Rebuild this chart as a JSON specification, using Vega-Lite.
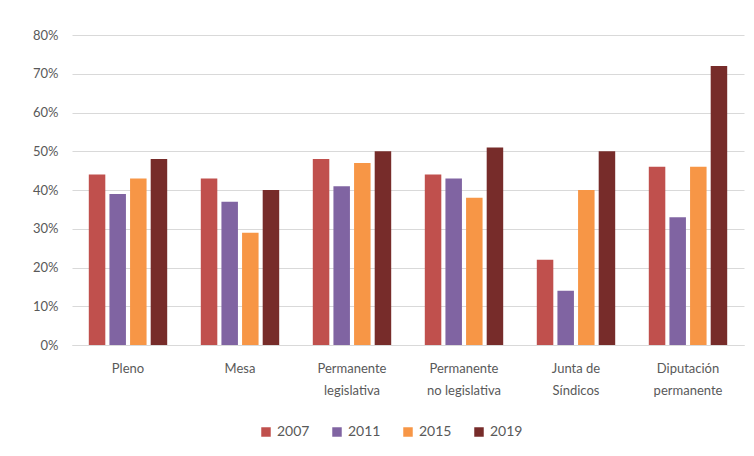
{
  "$schema": "https://vega.github.io/schema/vega-lite/v6.json",
  "width": 672,
  "height": 310,
  "autosize": {"type": "none"},
  "padding": {"left": 72, "top": 35, "right": 10, "bottom": 111},
  "background": "white",
  "data": {
    "values": [
      {"organo": "Pleno", "year": "2007", "pct": 0.44},
      {"organo": "Pleno", "year": "2011", "pct": 0.39},
      {"organo": "Pleno", "year": "2015", "pct": 0.43},
      {"organo": "Pleno", "year": "2019", "pct": 0.48},
      {"organo": "Mesa", "year": "2007", "pct": 0.43},
      {"organo": "Mesa", "year": "2011", "pct": 0.37},
      {"organo": "Mesa", "year": "2015", "pct": 0.29},
      {"organo": "Mesa", "year": "2019", "pct": 0.40},
      {"organo": "Permanente legislativa", "year": "2007", "pct": 0.48},
      {"organo": "Permanente legislativa", "year": "2011", "pct": 0.41},
      {"organo": "Permanente legislativa", "year": "2015", "pct": 0.47},
      {"organo": "Permanente legislativa", "year": "2019", "pct": 0.50},
      {"organo": "Permanente no legislativa", "year": "2007", "pct": 0.44},
      {"organo": "Permanente no legislativa", "year": "2011", "pct": 0.43},
      {"organo": "Permanente no legislativa", "year": "2015", "pct": 0.38},
      {"organo": "Permanente no legislativa", "year": "2019", "pct": 0.51},
      {"organo": "Junta de Síndicos", "year": "2007", "pct": 0.22},
      {"organo": "Junta de Síndicos", "year": "2011", "pct": 0.14},
      {"organo": "Junta de Síndicos", "year": "2015", "pct": 0.40},
      {"organo": "Junta de Síndicos", "year": "2019", "pct": 0.50},
      {"organo": "Diputación permanente", "year": "2007", "pct": 0.46},
      {"organo": "Diputación permanente", "year": "2011", "pct": 0.33},
      {"organo": "Diputación permanente", "year": "2015", "pct": 0.46},
      {"organo": "Diputación permanente", "year": "2019", "pct": 0.72}
    ]
  },
  "mark": {"type": "bar"},
  "encoding": {
    "x": {
      "field": "organo",
      "type": "nominal",
      "sort": null,
      "scale": {"paddingInner": 0.3, "paddingOuter": 0.15},
      "axis": {
        "title": null,
        "labelAngle": 0,
        "ticks": false,
        "domain": true,
        "domainColor": "#D9D9D9",
        "labelPadding": 17,
        "labelFont": "Lato",
        "labelFontSize": 13,
        "labelColor": "#595959",
        "labelLineHeight": 22,
        "labelExpr": "indexof(datum.value,'Permanente ')==0 ? ['Permanente', substring(datum.value, 11)] : datum.value=='Junta de Síndicos' ? ['Junta de','Síndicos'] : datum.value=='Diputación permanente' ? ['Diputación','permanente'] : datum.value"
      }
    },
    "xOffset": {
      "field": "year",
      "type": "nominal",
      "scale": {"paddingInner": 0.2}
    },
    "y": {
      "field": "pct",
      "type": "quantitative",
      "scale": {"domain": [0, 0.8], "nice": false},
      "axis": {
        "title": null,
        "format": ".0%",
        "values": [0, 0.1, 0.2, 0.3, 0.4, 0.5, 0.6, 0.7, 0.8],
        "labelOverlap": false,
        "domain": false,
        "ticks": false,
        "grid": true,
        "gridColor": "#D9D9D9",
        "labelPadding": 14,
        "labelFont": "Lato",
        "labelFontSize": 13,
        "labelColor": "#595959"
      }
    },
    "color": {
      "field": "year",
      "type": "nominal",
      "scale": {
        "domain": ["2007", "2011", "2015", "2019"],
        "range": ["#C0504D", "#8064A2", "#F79646", "#772C2A"]
      },
      "legend": {
        "title": null,
        "orient": "none",
        "legendX": 187,
        "legendY": 390,
        "direction": "horizontal",
        "symbolType": "square",
        "symbolSize": 90,
        "symbolStrokeWidth": 0,
        "labelFont": "Lato",
        "labelFontSize": 14,
        "labelColor": "#595959",
        "columnPadding": 20
      }
    }
  },
  "config": {"view": {"stroke": null}}
}
